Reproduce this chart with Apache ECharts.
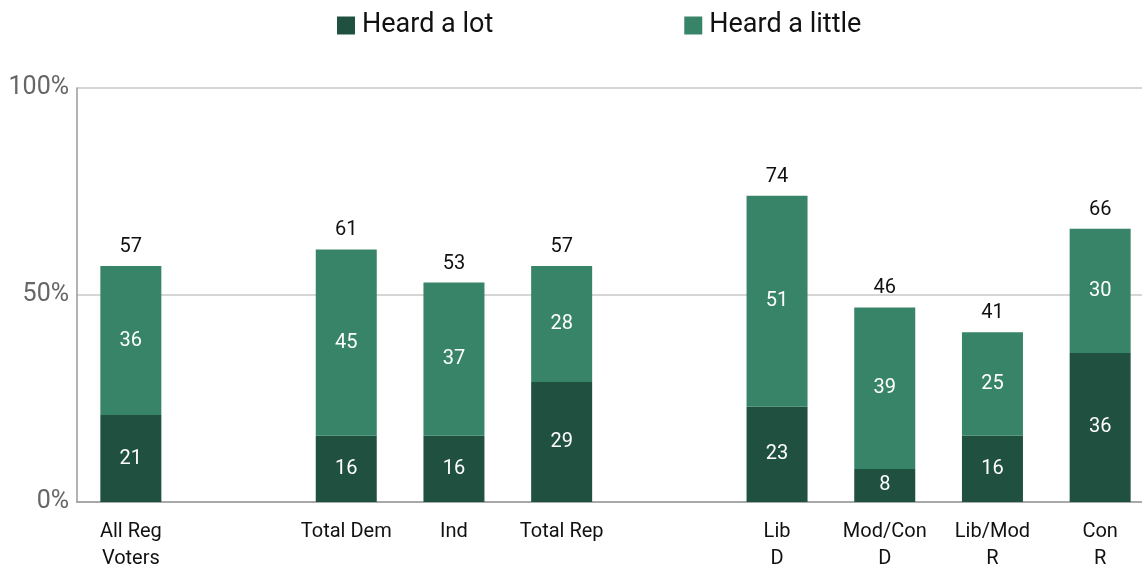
<!DOCTYPE html>
<html>
<head>
<meta charset="utf-8">
<script src="https://cdn.jsdelivr.net/npm/echarts@6/dist/echarts.min.js"></script>
<style>html,body{margin:0;padding:0;background:#fff;}#c{width:1142px;height:567px;}</style>
</head>
<body>
<div id="c"></div>
<script>
const categories = ['All Reg\nVoters', '', 'Total Dem', 'Ind', 'Total Rep', ' ', 'Lib\nD', 'Mod/Con\nD', 'Lib/Mod\nR', 'Con\nR'];
const heardALot = [21, null, 16, 16, 29, null, 23, 8, 16, 36];
const heardALittle = [36, null, 45, 37, 28, null, 51, 39, 25, 30];
const totals = [57, null, 61, 53, 57, null, 74, 46, 41, 66];
const yTicks = ['0%', '50%', '100%'];

const chart = echarts.init(document.getElementById('c'));
const font = 'Roboto, "DejaVu Sans", sans-serif';
chart.setOption({
  animation: false,
  textStyle: { fontFamily: font },
  legend: {
    left: 337, top: 12, padding: 0,
    itemWidth: 18, itemHeight: 18, itemGap: 191, icon: 'rect',
    textStyle: { fontSize: 27, color: '#111', fontFamily: font, padding: [0, 0, 0, 2] },
    data: ['Heard a lot', 'Heard a little']
  },
  grid: { left: 77, top: 88, width: 1077, height: 414, outerBoundsMode: 'none', containLabel: false },
  xAxis: {
    type: 'category', data: categories,
    axisLine: { lineStyle: { color: '#9a9a9a', width: 1.5 } },
    axisTick: { show: false },
    axisLabel: { fontSize: 20, color: '#111', lineHeight: 27, margin: 16, interval: 0, fontFamily: font }
  },
  yAxis: {
    type: 'value', min: 0, max: 100, interval: 50,
    axisLine: { show: true, lineStyle: { color: '#9a9a9a', width: 1.5 } },
    axisTick: { show: false },
    splitLine: { lineStyle: { color: '#c8c8c8', width: 1.5 } },
    axisLabel: { fontSize: 25, color: '#666', margin: 8, fontFamily: font,
      formatter: v => yTicks[Math.round(v / 50)] }
  },
  series: [
    { name: 'Heard a lot', type: 'bar', stack: 's', barWidth: 61, data: heardALot,
      itemStyle: { color: '#1f5040' },
      label: { show: true, position: 'inside', color: '#fff', fontSize: 20, fontFamily: font } },
    { name: 'Heard a little', type: 'bar', stack: 's', barWidth: 61, data: heardALittle,
      itemStyle: { color: '#378468' },
      label: { show: true, position: 'inside', color: '#fff', fontSize: 20, fontFamily: font } },
    { name: 'Total', type: 'bar', stack: 's', barWidth: 61,
      data: totals.map(t => t == null ? null : 0),
      itemStyle: { color: 'transparent' },
      label: { show: true, position: 'top', distance: 9, color: '#111', fontSize: 20, fontFamily: font,
        formatter: p => totals[p.dataIndex] == null ? '' : String(totals[p.dataIndex]) } }
  ]
});
</script>
</body>
</html>
